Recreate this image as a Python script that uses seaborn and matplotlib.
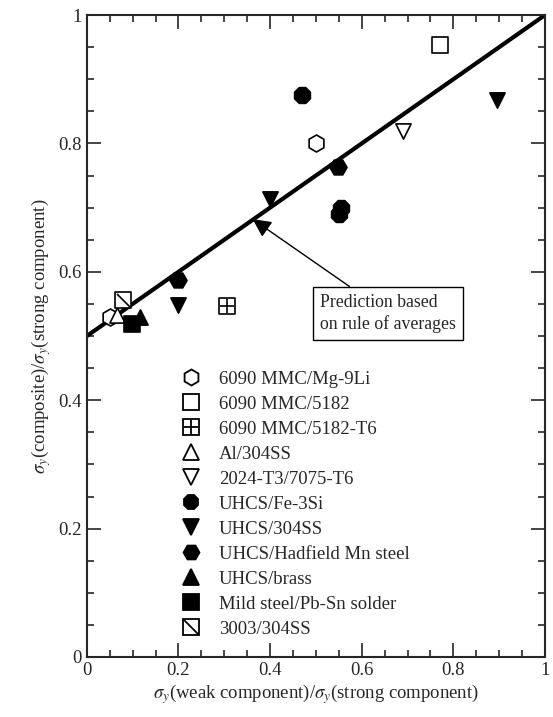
import numpy as np
import pandas as pd
import seaborn as sns
import matplotlib.pyplot as plt
from matplotlib.path import Path
from matplotlib.lines import Line2D
from matplotlib.ticker import MultipleLocator

# data
labels = ['6090 MMC/Mg-9Li', '6090 MMC/5182', '6090 MMC/5182-T6', 'Al/304SS',
          '2024-T3/7075-T6', 'UHCS/Fe-3Si', 'UHCS/304SS', 'UHCS/Hadfield Mn steel',
          'UHCS/brass', 'Mild steel/Pb-Sn solder', '3003/304SS']
x_vals = [[0.05, 0.50], [0.77], [0.305], [0.065],
          [0.69], [0.47, 0.55, 0.555], [0.20, 0.40, 0.895], [0.20, 0.548],
          [0.115], [0.098], [0.08]]
y_vals = [[0.53, 0.80], [0.953], [0.546], [0.532],
          [0.82], [0.875, 0.69, 0.70], [0.548, 0.714, 0.868], [0.588, 0.763],
          [0.53], [0.518], [0.556]]
line_x = [0.0, 1.0]
line_y = [0.5, 1.0]
ticks = [0, 0.2, 0.4, 0.6, 0.8, 1]
tick_labels = ['0', '0.2', '0.4', '0.6', '0.8', '1']

diag = Path([(-0.5, 0.5), (0.5, -0.5)], [Path.MOVETO, Path.LINETO])
markers = ['h', 's', 's', '^', 'v', '8', 'v', 'H', '^', 's', 's']
filled = [False, False, False, False, False, True, True, True, True, True, False]
overlay = [None, None, '+', None, None, None, None, None, None, None, diag]

sns.set_style('ticks')
plt.rcParams['font.family'] = ['Liberation Serif', 'DejaVu Serif']
plt.rcParams['mathtext.fontset'] = 'stix'

fig = plt.figure(figsize=(5.53, 7.17), dpi=100)
ax = fig.add_axes([0.157, 0.0837, 0.8285, 0.8953])

sns.lineplot(x=line_x, y=line_y, color='black', linewidth=3, ax=ax)

handles = []
for i, lab in enumerate(labels):
    df = pd.DataFrame({'x': x_vals[i], 'y': y_vals[i]})
    fc = 'black' if filled[i] else 'white'
    size = 150 if markers[i] in ('8', 'h', 'H') else 120
    sns.scatterplot(data=df, x='x', y='y', marker=markers[i], s=size,
                    facecolor=fc, edgecolor='black', linewidth=1.2, zorder=3, ax=ax)
    h = Line2D([], [], marker=markers[i], markersize=11.5, markerfacecolor=fc,
               markeredgecolor='black', markeredgewidth=1.3, linestyle='none')
    if overlay[i] is not None:
        ax.scatter(x_vals[i], y_vals[i], marker=overlay[i], s=size * 0.75,
                   color='black', linewidths=1.2, zorder=4)
        h2 = Line2D([], [], marker=overlay[i], markersize=10.5, color='black',
                    markeredgewidth=1.3, linestyle='none')
        handles.append((h, h2))
    else:
        handles.append(h)

ax.legend(handles, labels, loc='upper left', bbox_to_anchor=(0.19, 0.458),
          frameon=False, fontsize=13.5, handletextpad=1.0, labelspacing=0.42,
          handlelength=1.0, borderaxespad=0)

ax.annotate('Prediction based\non rule of averages', xy=(0.362, 0.682),
            xytext=(0.51, 0.535), fontsize=12.8, ha='left', va='center',
            linespacing=1.3,
            bbox=dict(boxstyle='square,pad=0.4', fc='white', ec='black', lw=1),
            arrowprops=dict(arrowstyle='-|>', color='black', lw=1,
                            mutation_scale=28, shrinkA=0, shrinkB=0))

ax.set_xlim(0, 1)
ax.set_ylim(0, 1)
ax.set_xticks(ticks, tick_labels)
ax.set_yticks(ticks, tick_labels)
ax.xaxis.set_minor_locator(MultipleLocator(0.05))
ax.yaxis.set_minor_locator(MultipleLocator(0.05))
ax.tick_params(which='both', direction='in', top=True, right=True, labelsize=13.5, width=1.2)
ax.tick_params(which='major', length=10)
ax.tick_params(which='minor', length=5)
for sp in ax.spines.values():
    sp.set_linewidth(1.5)

ax.set_xlabel(r'$\sigma_y$(weak component)/$\sigma_y$(strong component)', fontsize=13.5, labelpad=2)
ax.set_ylabel(r'$\sigma_y$(composite)/$\sigma_y$(strong component)', fontsize=13.5, labelpad=4)

fig.savefig('out.png', dpi=100)
